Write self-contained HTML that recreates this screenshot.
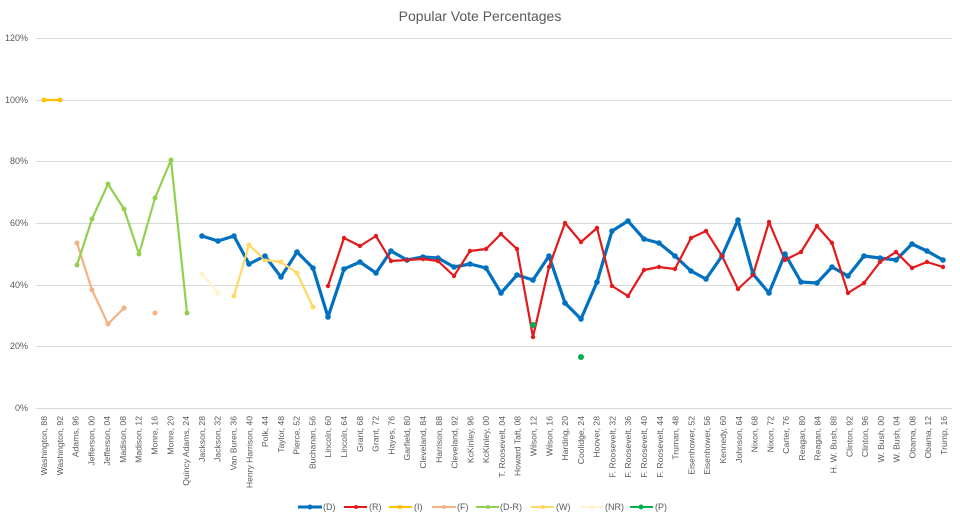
<!DOCTYPE html>
<html><head><meta charset="utf-8"><style>
html,body{margin:0;padding:0;background:#fff;}
svg{display:block;font-family:"Liberation Sans",sans-serif;}
</style></head><body>
<svg width="960" height="519" viewBox="0 0 960 519" xmlns="http://www.w3.org/2000/svg">
<rect width="960" height="519" fill="#fff"/>
<text x="480" y="21" text-anchor="middle" font-size="14" fill="#595959">Popular Vote Percentages</text>
<g stroke="#d9d9d9" stroke-width="1">
<line x1="36" x2="952" y1="38.5" y2="38.5"/><line x1="36" x2="952" y1="100.5" y2="100.5"/>
<line x1="36" x2="952" y1="161.5" y2="161.5"/><line x1="36" x2="952" y1="223.5" y2="223.5"/>
<line x1="36" x2="952" y1="285.5" y2="285.5"/><line x1="36" x2="952" y1="346.5" y2="346.5"/>
<line x1="36" x2="952" y1="408.5" y2="408.5"/>
</g>
<g font-size="9" fill="#595959" text-anchor="end">
<text x="28" y="41">120%</text><text x="28" y="103">100%</text><text x="28" y="164">80%</text>
<text x="28" y="226">60%</text><text x="28" y="288">40%</text><text x="28" y="349">20%</text><text x="28" y="411">0%</text>
</g>
<g id="xl" font-size="8.6" fill="#595959" text-anchor="end"></g>
<g fill="none" stroke-linejoin="round" stroke-linecap="round">
<polyline stroke="#0070c0" stroke-width="3.2" points="202,236 218,241 234,236 249,264 265,256 281,277 297,252 313,268 328,317 344,269 360,262 376,273 391,251 407,260 423,257 438,258 454,267 470,264 486,268 501,293 517,275 533,280 549,256 565,303 581,319 597,282 612,231 628,221 644,239 659,243 675,256 691,271 706,279 722,256 738,220 753,274 769,293 785,254 801,282 817,283 832,267 848,276 864,256 880,258 896,260 912,244 927,251 943,260"/>
<polyline stroke="#e31a1c" stroke-width="2.2" points="328,286 344,238 360,246 376,236 391,261 407,260 423,259 438,261 454,276 470,251 486,249 501,234 517,249 533,337 549,267 565,223 581,242 597,228 612,286 628,296 644,270 659,267 675,269 691,238 706,231 722,256 738,289 753,275 769,222 785,260 801,252 817,226 832,243 848,293 864,283 880,262 896,252 912,268 927,262 943,267"/>
<polyline stroke="#ffc000" stroke-width="2.2" points="44,100 60,100"/>
<polyline stroke="#f4b183" stroke-width="2.2" points="77,243 92,290 108,324 124,308"/>
<polyline stroke="#92d050" stroke-width="2.2" points="77,265 92,219 108,184 124,209 139,254 155,198 171,160 187,313"/>
<polyline stroke="#ffd966" stroke-width="2.2" points="234,296 249,245 265,260 281,262 297,273 313,307"/>
<polyline stroke="#fff2cc" stroke-width="2.2" points="202,274 218,293"/>
</g>
<g>
<circle cx="44" cy="100" r="2.5" fill="#ffc000"/><circle cx="60" cy="100" r="2.5" fill="#ffc000"/>
<g fill="#f4b183"><circle cx="77" cy="243" r="2.5"/><circle cx="92" cy="290" r="2.5"/><circle cx="108" cy="324" r="2.5"/><circle cx="124" cy="308" r="2.5"/><circle cx="155" cy="313" r="2.5"/></g>
<g fill="#92d050"><circle cx="77" cy="265" r="2.5"/><circle cx="92" cy="219" r="2.5"/><circle cx="108" cy="184" r="2.5"/><circle cx="124" cy="209" r="2.5"/><circle cx="139" cy="254" r="2.5"/><circle cx="155" cy="198" r="2.5"/><circle cx="171" cy="160" r="2.5"/><circle cx="187" cy="313" r="2.5"/></g>
<g fill="#ffd966"><circle cx="234" cy="296" r="2.5"/><circle cx="249" cy="245" r="2.5"/><circle cx="265" cy="260" r="2.5"/><circle cx="281" cy="262" r="2.5"/><circle cx="297" cy="273" r="2.5"/><circle cx="313" cy="307" r="2.5"/></g>
<g fill="#fff2cc"><circle cx="202" cy="274" r="2.5"/><circle cx="218" cy="293" r="2.5"/></g>
<g fill="#00b050"><circle cx="533" cy="325" r="3"/><circle cx="581" cy="357" r="3"/></g>
</g>
<g id="dots"></g>
<g font-size="9" fill="#595959">
<line x1="298" x2="322" y1="507" y2="507" stroke="#0070c0" stroke-width="3"/><circle cx="310" cy="507" r="2.5" fill="#0070c0"/><text x="323" y="510">(D)</text>
<line x1="344" x2="367" y1="507" y2="507" stroke="#e31a1c" stroke-width="2"/><circle cx="356" cy="507" r="2" fill="#e31a1c"/><text x="369" y="510">(R)</text>
<line x1="389" x2="412" y1="507" y2="507" stroke="#ffc000" stroke-width="2"/><circle cx="400" cy="507" r="2" fill="#ffc000"/><text x="414" y="510">(I)</text>
<line x1="432" x2="456" y1="507" y2="507" stroke="#f4b183" stroke-width="2"/><circle cx="444" cy="507" r="2" fill="#f4b183"/><text x="457" y="510">(F)</text>
<line x1="476" x2="499" y1="507" y2="507" stroke="#92d050" stroke-width="2"/><circle cx="488" cy="507" r="2" fill="#92d050"/><text x="500" y="510">(D-R)</text>
<line x1="531" x2="554" y1="507" y2="507" stroke="#ffd966" stroke-width="2"/><circle cx="543" cy="507" r="2" fill="#ffd966"/><text x="556" y="510">(W)</text>
<line x1="580" x2="603" y1="507" y2="507" stroke="#fff2cc" stroke-width="2"/><circle cx="592" cy="507" r="2" fill="#fff2cc"/><text x="605" y="510">(NR)</text>
<line x1="630" x2="653" y1="507" y2="507" stroke="#00b050" stroke-width="2"/><circle cx="641" cy="507" r="2.5" fill="#00b050"/><text x="655" y="510">(P)</text>
</g>
</svg>
<script>
var names=["Washington, 88","Washington, 92","Adams, 96","Jefferson, 00","Jefferson, 04","Madison, 08","Madison, 12","Monre, 16","Monre, 20","Quincy Adams, 24","Jackson, 28","Jackson, 32","Van Buren, 36","Henry Harrison, 40","Polk, 44","Taylor, 48","Pierce, 52","Buchanan, 56","Lincoln, 60","Lincoln, 64","Grant, 68","Grant, 72","Hayes, 76","Garfield, 80","Cleveland, 84","Harrison, 88","Cleveland, 92","KcKinley, 96","KcKinley, 00","T. Roosevelt, 04","Howard Taft, 08","Wilson, 12","Wilson, 16","Harding, 20","Coolidge, 24","Hoover, 28","F. Roosevelt, 32","F. Roosevelt, 36","F. Roosevelt, 40","F. Roosevelt, 44","Truman, 48","Eisenhower, 52","Eisenhower, 56","Kennedy, 60","Johnson, 64","Nixon, 68","Nixon, 72","Carter, 76","Reagan, 80","Reagan, 84","H. W. Bush, 88","Clinton, 92","Clinton, 96","W. Bush, 00","W. Bush, 04","Obama, 08","Obama, 12","Trump, 16"];
var ns="http://www.w3.org/2000/svg",g=document.getElementById("xl");
names.forEach(function(n,i){var x=44+i*15.79+3;var t=document.createElementNS(ns,"text");t.setAttribute("transform","translate("+x.toFixed(1)+",416) rotate(-90)");t.textContent=n;g.appendChild(t);});
function dots(pts,c,r){var d=document.getElementById("dots");pts.split(" ").forEach(function(p){var a=p.split(",");var e=document.createElementNS(ns,"circle");e.setAttribute("cx",a[0]);e.setAttribute("cy",a[1]);e.setAttribute("r",r);e.setAttribute("fill",c);d.appendChild(e);});}
var ps=document.querySelectorAll("polyline");
dots(ps[0].getAttribute("points"),"#0070c0",2.8);
dots(ps[1].getAttribute("points"),"#e31a1c",2.2);
</script>
</body></html>
